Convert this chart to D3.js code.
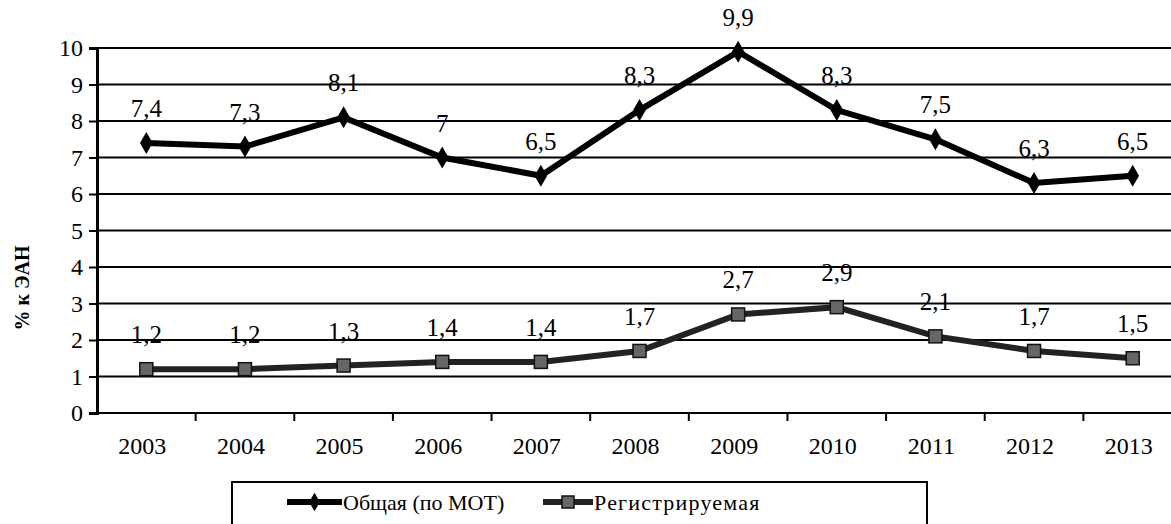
<!DOCTYPE html>
<html>
<head>
<meta charset="utf-8">
<script src="https://cdnjs.cloudflare.com/ajax/libs/d3/7.8.5/d3.min.js"></script>
<style>
  body { margin: 0; background: #fff; }
</style>
</head>
<body>
<svg id="chart" width="1171" height="524"></svg>
<script>
// chart data
var years = ["2003", "2004", "2005", "2006", "2007", "2008", "2009", "2010", "2011", "2012", "2013"];
var totalValues = [7.4, 7.3, 8.1, 7, 6.5, 8.3, 9.9, 8.3, 7.5, 6.3, 6.5];      // Общая (по МОТ)
var registeredValues = [1.2, 1.2, 1.3, 1.4, 1.4, 1.7, 2.7, 2.9, 2.1, 1.7, 1.5]; // Регистрируемая
var yTicks = [0, 1, 2, 3, 4, 5, 6, 7, 8, 9, 10];
var seriesNames = ["Общая (по МОТ)", "Регистрируемая"];

var serif = "'Liberation Serif', 'Times New Roman', serif";

var svg = d3.select("#chart");

// scales
var x = d3.scaleBand().domain(years).range([97, 1182]).padding(0);
var y = d3.scaleLinear().domain([0, 10]).range([413, 48]);

// formats 7.4 -> "7,4"
function fmt(v) {
  return String(v).replace(".", ",");
}

// horizontal gridlines
svg.append("g")
  .selectAll("line")
  .data(yTicks)
  .enter().append("line")
  .attr("x1", 97)
  .attr("x2", 1171)
  .attr("y1", function(d) { return y(d); })
  .attr("y2", function(d) { return y(d); })
  .attr("stroke", "#000")
  .attr("stroke-width", 2.2);

// y axis
var yAxis = svg.append("g")
  .attr("transform", "translate(97,0)")
  .call(d3.axisLeft(y).tickValues(yTicks).tickSize(8).tickPadding(6).tickFormat(d3.format("d")));
yAxis.select(".domain").attr("stroke", "#000").attr("stroke-width", 3);
yAxis.selectAll(".tick line").attr("stroke", "#000").attr("stroke-width", 2);
yAxis.selectAll(".tick text")
  .style("font-family", serif)
  .style("font-size", "24px")
  .attr("fill", "#000");

// x axis (ticks between categories)
var xAxisG = svg.append("g").attr("transform", "translate(0," + y(0) + ")");
xAxisG.append("line")
  .attr("x1", 97).attr("x2", 1171)
  .attr("stroke", "#000").attr("stroke-width", 2.2);
xAxisG.selectAll(".bt")
  .data(years.slice(1))
  .enter().append("line")
  .attr("class", "bt")
  .attr("x1", function(d) { return x(d); })
  .attr("x2", function(d) { return x(d); })
  .attr("y1", 0).attr("y2", 8)
  .attr("stroke", "#000").attr("stroke-width", 2);
xAxisG.selectAll(".xl")
  .data(years)
  .enter().append("text")
  .attr("class", "xl")
  .attr("x", function(d) { return x(d) + x.bandwidth() / 2 - 4; })
  .attr("y", 41)
  .attr("text-anchor", "middle")
  .style("font-family", serif)
  .style("font-size", "24px")
  .text(function(d) { return d; });

// y axis title
svg.append("text")
  .attr("transform", "translate(29,288) rotate(-90)")
  .attr("text-anchor", "middle")
  .style("font-family", serif)
  .style("font-size", "20px")
  .style("font-weight", "bold")
  .text("% к ЭАН");

var line = d3.line()
  .x(function(d, i) { return x(years[i]) + x.bandwidth() / 2; })
  .y(function(d) { return y(d); });

// registered series line + square markers
svg.append("path")
  .datum(registeredValues)
  .attr("d", line)
  .attr("fill", "none")
  .attr("stroke", "#222")
  .attr("stroke-width", 6);
svg.append("g")
  .selectAll("rect")
  .data(registeredValues)
  .enter().append("rect")
  .attr("x", function(d, i) { return x(years[i]) + x.bandwidth() / 2 - 6.5; })
  .attr("y", function(d) { return y(d) - 6.5; })
  .attr("width", 13)
  .attr("height", 13)
  .attr("fill", "#666")
  .attr("stroke", "#111")
  .attr("stroke-width", 1.5);

// total series line + diamond markers
svg.append("path")
  .datum(totalValues)
  .attr("d", line)
  .attr("fill", "none")
  .attr("stroke", "#000")
  .attr("stroke-width", 6);
svg.append("g")
  .selectAll("path")
  .data(totalValues)
  .enter().append("path")
  .attr("d", d3.symbol().type(d3.symbolDiamond).size(140))
  .attr("transform", function(d, i) {
    return "translate(" + (x(years[i]) + x.bandwidth() / 2) + "," + y(d) + ")";
  })
  .attr("fill", "#000");

// data labels
function labels(values) {
  svg.append("g")
    .selectAll("text")
    .data(values)
    .enter().append("text")
    .attr("x", function(d, i) { return x(years[i]) + x.bandwidth() / 2; })
    .attr("y", function(d) { return y(d) - 26; })
    .attr("text-anchor", "middle")
    .style("font-family", serif)
    .style("font-size", "25px")
    .text(fmt);
}
labels(totalValues);
labels(registeredValues);

// legend
var legend = svg.append("g");
legend.append("rect")
  .attr("x", 232).attr("y", 482)
  .attr("width", 695).attr("height", 60)
  .attr("fill", "#fff")
  .attr("stroke", "#000")
  .attr("stroke-width", 2);

var legendItems = [
  { x1: 287, x2: 342, name: seriesNames[0], type: "diamond", spacing: 0 },
  { x1: 543, x2: 593, name: seriesNames[1], type: "square", spacing: 1.2 }
];
legendItems.forEach(function(item) {
  legend.append("line")
    .attr("x1", item.x1).attr("x2", item.x2)
    .attr("y1", 502).attr("y2", 502)
    .attr("stroke", item.type === "diamond" ? "#000" : "#222")
    .attr("stroke-width", 6);
  var mx = (item.x1 + item.x2) / 2;
  if (item.type === "diamond") {
    legend.append("path")
      .attr("d", d3.symbol().type(d3.symbolDiamond).size(100))
      .attr("transform", "translate(" + mx + ",502)")
      .attr("fill", "#000");
  } else {
    legend.append("rect")
      .attr("x", mx - 6).attr("y", 496)
      .attr("width", 12).attr("height", 12)
      .attr("fill", "#666").attr("stroke", "#111").attr("stroke-width", 1.5);
  }
  legend.append("text")
    .attr("x", item.x2 + 1)
    .attr("y", 510)
    .style("font-family", serif)
    .style("font-size", "22px")
    .style("letter-spacing", item.spacing + "px")
    .text(item.name);
});
</script>
</body>
</html>
